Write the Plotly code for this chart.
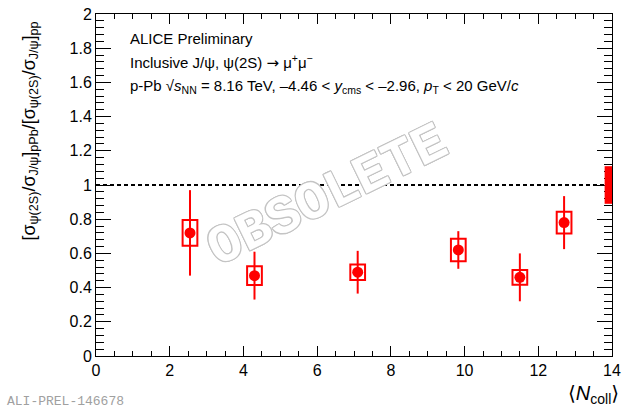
import plotly.graph_objects as go

# ---- data ----
ncoll = [2.55, 4.3, 7.1, 9.83, 11.5, 12.7]
ratio = [0.72, 0.47, 0.49, 0.62, 0.46, 0.78]
stat_err = [0.25, 0.14, 0.125, 0.11, 0.14, 0.155]
syst_err = [0.075, 0.055, 0.045, 0.066, 0.043, 0.063]
syst_box_halfwidth = 0.2
global_center = 1.0
global_unc = 0.11
global_x = [13.8, 14.0]
ref_value = 1.0
x_range = [0, 14]
y_range = [0, 2]

RED = "#ff0000"
FONT = "Liberation Sans, Arial, DejaVu Sans, sans-serif"

fig = go.Figure()

fig.add_trace(go.Scatter(
    x=ncoll, y=ratio, mode="markers",
    marker=dict(color=RED, size=11, symbol="circle"),
    error_y=dict(type="data", array=stat_err, color=RED, thickness=2, width=0),
    showlegend=False,
))

shapes = []
shapes.append(dict(type="line", xref="x", yref="y", x0=x_range[0], x1=x_range[1],
                   y0=ref_value, y1=ref_value,
                   line=dict(color="black", width=2, dash="4px,3px"), layer="below"))
for xv, yv, sv in zip(ncoll, ratio, syst_err):
    shapes.append(dict(type="rect", xref="x", yref="y",
                       x0=xv - syst_box_halfwidth, x1=xv + syst_box_halfwidth,
                       y0=yv - sv, y1=yv + sv,
                       line=dict(color=RED, width=2), fillcolor="rgba(0,0,0,0)"))
shapes.append(dict(type="rect", xref="x", yref="y",
                   x0=global_x[0], x1=global_x[1],
                   y0=global_center - global_unc, y1=global_center + global_unc,
                   line=dict(width=0), fillcolor=RED))

L, R, T, B = 96, 21, 14, 56
W, H = 633, 412
pw, ph = W - L - R, H - T - B


def px(xp):
    return (xp - L) / pw


def py(yp):
    return (H - B - yp) / ph


outline = ", ".join(f"{dx}px {dy}px 0 #c4c4c4" for dx, dy in
                    [(1, 1), (-1, -1), (1, -1), (-1, 1), (1, 0), (-1, 0), (0, 1), (0, -1)])

annotations = [
    dict(text="OBSOLETE", xref="paper", yref="paper", x=px(327), y=py(196),
         xanchor="center", yanchor="middle", textangle=-26, showarrow=False,
         font=dict(family="Liberation Mono, DejaVu Sans Mono, monospace", size=54,
                   color="white", weight="bold", shadow=outline)),
    dict(text="ALICE Preliminary", xref="paper", yref="paper", x=px(128), y=py(38),
         xanchor="left", yanchor="middle", showarrow=False,
         font=dict(family=FONT, size=15, color="black")),
    dict(text="Inclusive J/ψ, ψ(2S) <span style='font-family:DejaVu Sans'>→</span> μ<sup>+</sup>μ<sup>−</sup>",
         xref="paper", yref="paper",
         x=px(128), y=py(62), xanchor="left", yanchor="middle", showarrow=False,
         font=dict(family=FONT, size=15, color="black")),
    dict(text="p-Pb √<i>s</i><sub>NN</sub> = 8.16 TeV, –4.46 &lt; <i>y</i><sub>cms</sub> &lt; –2.96, "
              "<i>p</i><sub>T</sub> &lt; 20 GeV/<i>c</i>",
         xref="paper", yref="paper", x=px(128), y=py(87), xanchor="left", yanchor="middle",
         showarrow=False, font=dict(family=FONT, size=15, color="black")),
    dict(text="[σ<sub>ψ(2S)</sub>/σ<sub>J/ψ</sub>]<sub>pPb</sub>/[σ<sub>ψ(2S)</sub>/σ<sub>J/ψ</sub>]<sub>pp</sub>",
         xref="paper", yref="paper", x=px(30), y=py(20), xanchor="center", yanchor="top",
         textangle=-90, showarrow=False, font=dict(family=FONT, size=18, color="black")),
    dict(text="⟨<i>N</i><sub>coll</sub>⟩", xref="paper", yref="paper", x=px(621), y=py(395),
         xanchor="right", yanchor="middle", showarrow=False,
         font=dict(family="Liberation Sans, DejaVu Sans, sans-serif", size=20, color="black")),
    dict(text="ALI-PREL-146678", xref="paper", yref="paper", x=px(5), y=py(401),
         xanchor="left", yanchor="middle", showarrow=False,
         font=dict(family="Liberation Mono, DejaVu Sans Mono, monospace", size=13, color="#a0a0a0")),
]

axis_common = dict(showgrid=False, zeroline=False, showline=True, linecolor="black", linewidth=1,
                   ticks="inside", tickcolor="black", tickwidth=1, mirror="allticks",
                   tickfont=dict(family=FONT, size=16, color="black"))

fig.update_layout(
    width=W, height=H, margin=dict(l=L, r=R, t=T, b=B, autoexpand=False),
    paper_bgcolor="white", plot_bgcolor="white",
    xaxis=dict(range=x_range, dtick=2, tick0=0, ticklen=10, automargin=False,
               minor=dict(dtick=0.5, ticks="inside", ticklen=5, tickcolor="black"),
               **axis_common),
    yaxis=dict(range=y_range, dtick=0.2, tick0=0, ticklen=15, automargin=False,
               minor=dict(dtick=0.04, ticks="inside", ticklen=8, tickcolor="black"),
               **axis_common),
    shapes=shapes, annotations=annotations, showlegend=False,
)

fig.write_html("out.html", config={"displayModeBar": False},
               post_script="document.body.style.margin='0';document.body.style.padding='0';")
